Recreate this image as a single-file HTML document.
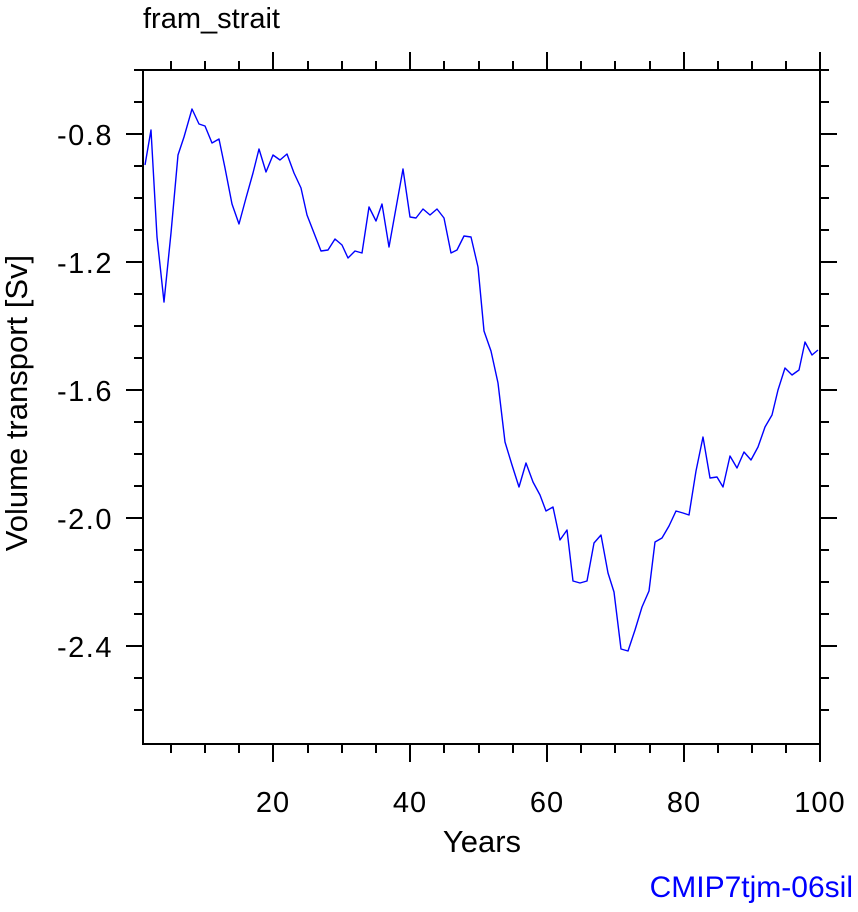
<!DOCTYPE html>
<html><head><meta charset="utf-8"><style>body{margin:0;background:#fff}svg{display:block}</style></head><body>
<svg width="858" height="912" xmlns="http://www.w3.org/2000/svg" font-family="Liberation Sans, sans-serif">
<rect width="858" height="912" fill="#fff"/>
<text x="143" y="28" font-size="29">fram_strait</text>
<polyline fill="none" stroke="#0000ff" stroke-width="1.4" stroke-linejoin="round" points="145,165 151,130 157,237 164,302 171,233 178,155 184,137 192,109 199,124 205,126 212,143 219,139 225,168 232,204 239,224 246,198 253,173 259,149 266,172 273,155 280,160 287,154 294,173 301,188 307,215 314,233 321,251 328,250 335,239 342,245 348,258 355,251 362,253 369,207 376,221 382,204 389,247 396,208 403,169 410,217 416,218 423,209 430,215 437,209 444,218 451,253 457,250 464,236 471,237 478,267 484,331 491,351 498,383 505,442 512,465 519,487 526,463 533,482 540,495 546,511 553,507 560,540 567,530 573,581 580,583 587,581 594,543 601,535 608,573 614,592 621,649 628,651 635,630 642,607 649,591 655,542 662,538 669,526 676,511 683,513 689,515 696,471 703,437 710,478 717,477 723,487 730,456 737,468 744,452 751,460 758,447 765,427 772,415 778,390 785,368 792,375 799,370 805,342 812,355 818,350"/>
<g stroke="#000" stroke-width="2">
<rect x="143" y="70" width="677" height="674" fill="none"/>
<path d="M273,744v18M410,744v18M547,744v18M684,744v18M820,744v18M273,70v-18M410,70v-18M547,70v-18M684,70v-18M820,70v-18
M171,744v9M205,744v9M239,744v9M308,744v9M342,744v9M376,744v9M444,744v9M479,744v9M513,744v9M581,744v9M615,744v9M650,744v9M718,744v9M752,744v9M786,744v9
M171,70v-9M205,70v-9M239,70v-9M308,70v-9M342,70v-9M376,70v-9M444,70v-9M479,70v-9M513,70v-9M581,70v-9M615,70v-9M650,70v-9M718,70v-9M752,70v-9M786,70v-9
M143,134h-17M143,262h-17M143,390h-17M143,518h-17M143,646h-17M820,134h17M820,262h17M820,390h17M820,518h17M820,646h17
M143,70h-9M143,102h-9M143,166h-9M143,198h-9M143,230h-9M143,294h-9M143,326h-9M143,358h-9M143,422h-9M143,454h-9M143,486h-9M143,550h-9M143,582h-9M143,614h-9M143,678h-9M143,710h-9
M820,70h9M820,102h9M820,166h9M820,198h9M820,230h9M820,294h9M820,326h9M820,358h9M820,422h9M820,454h9M820,486h9M820,550h9M820,582h9M820,614h9M820,678h9M820,710h9"/>
</g>
<g font-size="29" text-anchor="end" letter-spacing="1.5">
<text x="113" y="145">-0.8</text><text x="113" y="273">-1.2</text><text x="113" y="401">-1.6</text><text x="113" y="529">-2.0</text><text x="113" y="657">-2.4</text>
</g>
<g font-size="29" text-anchor="middle" letter-spacing="1">
<text x="273" y="812">20</text><text x="410" y="812">40</text><text x="547" y="812">60</text><text x="684" y="812">80</text><text x="820" y="812">100</text>
</g>
<text x="482" y="852" font-size="31" text-anchor="middle">Years</text>
<text transform="translate(27,403) rotate(-90)" font-size="31" text-anchor="middle">Volume transport [Sv]</text>
<text x="853" y="897" font-size="30" text-anchor="end" fill="#0000ff">CMIP7tjm-06sil</text>
</svg>
</body></html>
